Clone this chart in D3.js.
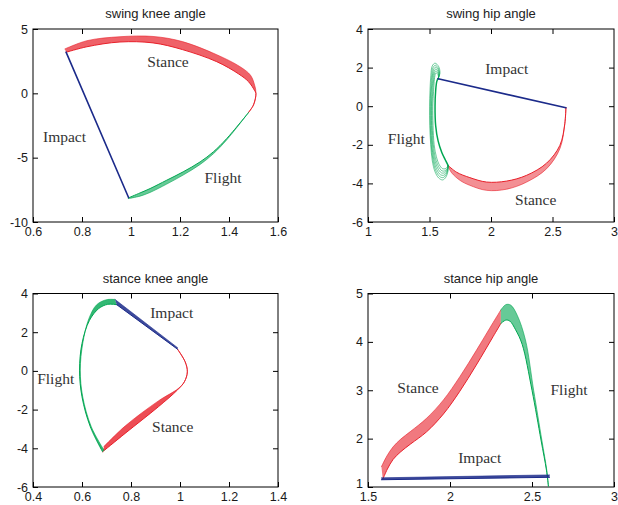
<!DOCTYPE html>
<html><head><meta charset="utf-8">
<script src="https://cdn.jsdelivr.net/npm/d3@7"></script>
<style>body{margin:0;background:#fff}</style></head>
<body><svg id="c" width="618" height="505"></svg>
<script>
// ---------- titles / tick labels ----------
const titles = ["swing knee angle", "swing hip angle", "stance knee angle", "stance hip angle"];
const swingKneeXTicks = [0.6, 0.8, 1, 1.2, 1.4, 1.6];
const swingKneeYTicks = [-10, -5, 0, 5];
const swingHipXTicks = [1, 1.5, 2, 2.5, 3];
const swingHipYTicks = [-6, -4, -2, 0, 2, 4];
const stanceKneeXTicks = [0.4, 0.6, 0.8, 1, 1.2, 1.4];
const stanceKneeYTicks = [-6, -4, -2, 0, 2, 4];
const stanceHipXTicks = [1.5, 2, 2.5, 3];
const stanceHipYTicks = [1, 2, 3, 4, 5];

// ---------- swing knee (angle, velocity) ----------
const swingKneeStanceOuter = [[0.73,3.45],[0.82,4.09],[0.955,4.4],[1.09,4.42],[1.21,4.02],[1.35,3.0],[1.445,2.07],[1.488,1.4],[1.505,0.6],[1.51,0],[1.5,-0.9],[1.479,-1.5]];
const swingKneeStanceInner = [[0.735,3.19],[0.82,3.62],[0.955,3.99],[1.09,3.92],[1.21,3.4],[1.35,2.46],[1.44,1.5],[1.48,0.9],[1.505,0.2],[1.51,0],[1.5,-0.9],[1.479,-1.5]];
const swingKneeFlightInner = [[1.479,-1.51],[1.391,-3.51],[1.336,-4.55],[1.282,-5.33],[1.213,-6.1],[1.146,-6.75],[1.078,-7.4],[1.037,-7.74],[0.989,-8.13]];
const swingKneeFlightOuter = [[1.479,-1.51],[1.391,-3.61],[1.336,-4.7],[1.282,-5.53],[1.213,-6.35],[1.146,-7.05],[1.078,-7.7],[1.037,-7.99],[0.989,-8.18]];
const swingKneeImpact = [[0.99,-8.1],[0.735,3.2]];

// ---------- swing hip ----------
const swingHipFlightCycles = [
  [[1.57,1.42],[1.585,1.72],[1.574,2.06],[1.545,2.23],[1.522,2.08],[1.511,1.6],[1.504,0.8],[1.501,0],[1.502,-1.0],[1.51,-2.0],[1.522,-2.8],[1.545,-3.4],[1.575,-3.72],[1.607,-3.82],[1.633,-3.68],[1.65,-3.38],[1.651,-3.07]],
  [[1.57,1.42],[1.582,1.7],[1.571,1.98],[1.547,2.12],[1.527,1.98],[1.517,1.5],[1.509,0.75],[1.506,0],[1.507,-1.0],[1.514,-2.0],[1.528,-2.78],[1.552,-3.35],[1.582,-3.64],[1.61,-3.7],[1.634,-3.56],[1.649,-3.3],[1.651,-3.07]],
  [[1.57,1.42],[1.579,1.68],[1.568,1.92],[1.548,2.02],[1.532,1.88],[1.522,1.45],[1.514,0.7],[1.511,0],[1.512,-1.0],[1.519,-2.0],[1.534,-2.75],[1.559,-3.28],[1.589,-3.55],[1.615,-3.58],[1.636,-3.45],[1.649,-3.25],[1.651,-3.07]],
  [[1.57,1.42],[1.577,1.64],[1.566,1.85],[1.549,1.92],[1.536,1.78],[1.527,1.35],[1.519,0.6],[1.516,0],[1.517,-1.0],[1.525,-2.0],[1.541,-2.72],[1.566,-3.2],[1.596,-3.45],[1.62,-3.46],[1.638,-3.35],[1.649,-3.2],[1.651,-3.07]],
  [[1.57,1.42],[1.575,1.6],[1.564,1.78],[1.55,1.82],[1.54,1.68],[1.532,1.25],[1.524,0.5],[1.521,0],[1.522,-1.0],[1.531,-2.0],[1.548,-2.68],[1.573,-3.12],[1.602,-3.35],[1.625,-3.35],[1.64,-3.26],[1.65,-3.15],[1.651,-3.07]],
  [[1.57,1.42],[1.573,1.55],[1.562,1.7],[1.552,1.72],[1.544,1.58],[1.537,1.15],[1.53,0.4],[1.527,0],[1.529,-1.0],[1.538,-2.0],[1.556,-2.62],[1.58,-3.04],[1.607,-3.24],[1.628,-3.24],[1.642,-3.17],[1.651,-3.07]]
];
const swingHipFlightLast = [[1.57,1.42],[1.56,1.3],[1.55,0.8],[1.545,0],[1.55,-1.0],[1.57,-1.8],[1.6,-2.4],[1.63,-2.8],[1.651,-3.07]];
const swingHipStanceInner = [[1.651,-3.07],[1.72,-3.42],[1.828,-3.7],[1.964,-3.93],[2.127,-3.88],[2.29,-3.58],[2.452,-2.95],[2.56,-2.03],[2.6,-0.91],[2.609,-0.08]];
const swingHipStanceOuter = [[1.651,-3.1],[1.68,-3.45],[1.75,-3.85],[1.828,-4.1],[1.964,-4.36],[2.127,-4.3],[2.29,-3.93],[2.452,-3.24],[2.56,-2.2],[2.6,-0.91],[2.609,-0.08]];
const swingHipImpact = [[2.609,-0.08],[1.57,1.42]];

// ---------- stance knee ----------
const stanceKneeImpactOuter = [[0.735,3.69],[0.99,1.2]];
const stanceKneeImpactInner = [[0.742,3.42],[0.99,1.12]];
const stanceKneeStanceOuter = [[0.99,1.12],[1.021,0.47],[1.03,-0.05],[1.018,-0.56],[0.994,-0.9],[0.912,-1.55],[0.776,-2.85],[0.69,-3.9]];
const stanceKneeStanceInner = [[0.99,1.12],[1.021,0.47],[1.03,-0.05],[1.018,-0.56],[0.99,-0.98],[0.912,-1.85],[0.776,-3.23],[0.684,-4.18]];
const stanceKneeFlightOuter = [[0.69,-4.1],[0.638,-2.89],[0.603,-1.34],[0.593,0.04],[0.603,1.42],[0.628,2.7],[0.66,3.42],[0.7,3.68],[0.735,3.69]];
const stanceKneeFlightInner = [[0.684,-4.18],[0.634,-2.89],[0.6,-1.34],[0.59,0.04],[0.6,1.42],[0.63,2.6],[0.668,3.22],[0.705,3.44],[0.742,3.42]];

// ---------- stance hip ----------
const stanceHipImpactOuter = [[1.582,1.19],[2.607,1.25]];
const stanceHipImpactInner = [[1.582,1.15],[2.607,1.2]];
const stanceHipStanceOuter = [[1.582,1.42],[1.615,1.64],[1.653,1.83],[1.7,1.99],[1.76,2.15],[1.857,2.42],[1.96,2.8],[2.06,3.28],[2.16,3.82],[2.263,4.4],[2.31,4.66]];
const stanceHipStanceInner = [[1.59,1.16],[1.618,1.37],[1.653,1.57],[1.7,1.73],[1.76,1.89],[1.857,2.14],[1.96,2.51],[2.06,2.98],[2.16,3.52],[2.263,4.11],[2.31,4.38]];
const stanceHipFlightOuter = [[2.31,4.66],[2.34,4.77],[2.37,4.76],[2.41,4.55],[2.46,4.04],[2.51,3.0],[2.56,1.97],[2.59,1.35],[2.6,1.02]];
const stanceHipFlightInner = [[2.31,4.38],[2.34,4.45],[2.365,4.43],[2.4,4.25],[2.44,3.95],[2.5,3.0],[2.555,1.97],[2.588,1.35],[2.6,1.02]];

// ---------- phase labels ----------
const labelNames = ["Stance", "Impact", "Flight"];

// ---------- rendering ----------
const RED = "#e8202a", GREEN = "#00a651", BLUE = "#1b2a8a";
const svg = d3.select("#c");

const panels = [
  {title: titles[0], box: [33, 29, 278, 222], xt: swingKneeXTicks, yt: swingKneeYTicks,
   labels: [[labelNames[0],168,62],[labelNames[1],64.5,137],[labelNames[2],223,178]]},
  {title: titles[1], box: [368, 29, 614, 222], xt: swingHipXTicks, yt: swingHipYTicks,
   labels: [[labelNames[1],506.7,69],[labelNames[2],406.3,138.3],[labelNames[0],535.7,199.3]]},
  {title: titles[2], box: [33, 293.5, 278, 487], xt: stanceKneeXTicks, yt: stanceKneeYTicks,
   labels: [[labelNames[1],171.7,312.7],[labelNames[2],55.7,378.3],[labelNames[0],172.7,426.7]]},
  {title: titles[3], box: [368, 293.5, 614, 487], xt: stanceHipXTicks, yt: stanceHipYTicks, nudgeFirstY: true,
   labels: [[labelNames[0],418,387.7],[labelNames[2],569,390],[labelNames[1],479.7,457.3]]}
];

function setup(p) {
  const [l, t, r, b] = p.box;
  const x = d3.scaleLinear().domain([p.xt[0], p.xt[p.xt.length-1]]).range([l, r]);
  const y = d3.scaleLinear().domain([p.yt[0], p.yt[p.yt.length-1]]).range([b, t]);
  const g = svg.append("g");
  g.append("rect").attr("x", l).attr("y", t).attr("width", r-l).attr("height", b-t)
    .attr("fill", "none").attr("stroke", "#000").attr("stroke-width", 1);
  const fmt = d => String(d);
  const ax = (gen, tx, ty, vals, pad) => {
    const a = g.append("g").attr("transform", `translate(${tx},${ty})`)
      .call(gen.tickValues(vals).tickSizeInner(-5).tickSizeOuter(0).tickPadding(pad).tickFormat(fmt));
    a.select(".domain").remove();
    a.selectAll("line").attr("stroke", "#000");
    a.selectAll("text").attr("font-family", "Liberation Sans, Arial, sans-serif").attr("font-size", 12.5).attr("fill", "#1a1a1a");
    return a;
  };
  ax(d3.axisBottom(x), 0, b, p.xt, 5.5);
  const ya = ax(d3.axisLeft(y), l, 0, p.yt, 5);
  if (p.nudgeFirstY) ya.selectAll("text").filter(d => d === p.yt[0]).attr("dy", "0.02em");
  const inner = (gen, v, tx, ty) => {
    const a = g.append("g").attr("transform", `translate(${tx},${ty})`)
      .call(gen.tickValues(v).tickSizeInner(-5).tickSizeOuter(0).tickFormat(""));
    a.select(".domain").remove();
    a.selectAll("line").attr("stroke", "#000");
  };
  inner(d3.axisTop(x), p.xt.slice(1, -1), 0, t);
  inner(d3.axisRight(y), p.yt.slice(1, -1), r, 0);
  g.append("text").attr("x", (l+r)/2).attr("y", t-11).attr("text-anchor", "middle")
    .attr("font-family", "Liberation Sans, Arial, sans-serif").attr("font-size", 13).attr("fill", "#222").text(p.title);
  p.labels.forEach(([txt, cx, cy]) => {
    g.append("text").attr("x", cx).attr("y", cy).attr("dy", "0.35em").attr("text-anchor", "middle")
      .attr("font-family", "Liberation Serif, Times New Roman, serif").attr("font-size", 15.5).attr("fill", "#333").text(txt);
  });
  const plot = g.append("g");
  return {x, y, plot};
}

function line(ctx, pts, color, w, op) {
  const gen = d3.line().x(d => ctx.x(d[0])).y(d => ctx.y(d[1])).curve(d3.curveCatmullRom.alpha(0.5));
  ctx.plot.append("path").attr("d", gen(pts)).attr("fill", "none").attr("stroke", color)
    .attr("stroke-width", w).attr("stroke-opacity", op == null ? 1 : op).attr("stroke-linejoin", "round").attr("stroke-linecap", "round");
}
function band(ctx, outer, inner, color, fillOp) {
  const gen = d3.line().x(d => ctx.x(d[0])).y(d => ctx.y(d[1])).curve(d3.curveCatmullRom.alpha(0.5));
  const d1 = gen(outer), d2 = gen(inner.slice().reverse());
  ctx.plot.append("path").attr("d", d1 + "L" + d2.slice(1) + "Z").attr("fill", color).attr("fill-opacity", fillOp).attr("stroke", "none");
  line(ctx, outer, color, 0.7, 0.85);
  line(ctx, inner, color, 1.0, 1);
}

// panel 1
let c = setup(panels[0]);
band(c, swingKneeStanceOuter, swingKneeStanceInner, RED, 0.7);
band(c, swingKneeFlightOuter, swingKneeFlightInner, GREEN, 0.6);
line(c, swingKneeImpact, BLUE, 1.6);

// panel 2
c = setup(panels[1]);
band(c, swingHipStanceOuter, swingHipStanceInner, RED, 0.5);
swingHipFlightCycles.forEach(cy => line(c, cy, GREEN, 0.7, 0.8));
line(c, swingHipFlightLast, GREEN, 1.5);
line(c, swingHipImpact, BLUE, 1.6);

// panel 3
c = setup(panels[2]);
band(c, stanceKneeStanceOuter, stanceKneeStanceInner, RED, 0.8);
band(c, stanceKneeFlightOuter, stanceKneeFlightInner, GREEN, 0.8);
band(c, stanceKneeImpactOuter, stanceKneeImpactInner, BLUE, 0.85);

// panel 4
c = setup(panels[3]);
band(c, stanceHipStanceOuter, stanceHipStanceInner, RED, 0.6);
band(c, stanceHipFlightOuter, stanceHipFlightInner, GREEN, 0.6);
band(c, stanceHipImpactOuter, stanceHipImpactInner, BLUE, 0.85);
</script></body></html>
